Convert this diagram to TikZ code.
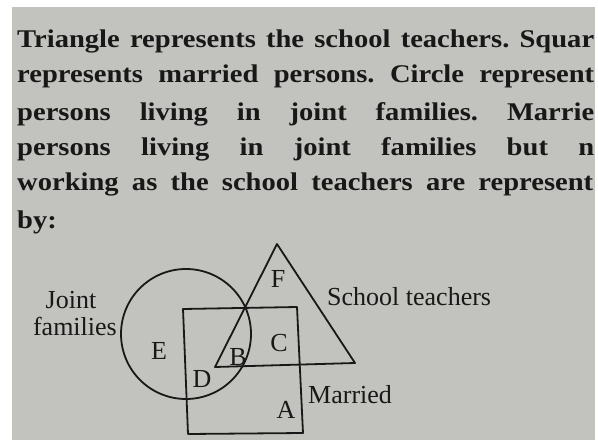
\documentclass[tikz,border=0pt]{standalone}
\usepackage{fontspec}
\newfontfamily\labelfont{Liberation Serif}
\newfontfamily\qfont[FakeStretch=1.12]{Liberation Serif}
\definecolor{paper}{RGB}{194,194,190}
\definecolor{ink}{RGB}{24,24,24}
\tikzset{
  x=1pt, y=-1pt,
  venn/.style={draw=ink, line width=1.8pt, line join=round},
  qline/.style={anchor=base west, inner sep=0pt, text=ink, font=\qfont\bfseries\fontsize{25.5}{30}\selectfont\frenchspacing},
  lbl/.style={inner sep=0pt, text=ink, font=\labelfont\fontsize{26}{30}\selectfont},
  sidelbl/.style={anchor=base west, inner sep=0pt, text=ink, font=\labelfont\fontsize{26}{30}\selectfont},
}
\begin{document}
\begin{tikzpicture}
\useasboundingbox (0,0) rectangle (598,445);
\fill[white] (0,0) rectangle (598,445);
\fill[paper] (12,7) rectangle (595,440);
\node[qline] (l1) at (17,47) {\makebox[577pt][s]{Triangle represents the school teachers. Squar}};
\node[qline] (l2) at (17,82) {\makebox[577pt][s]{represents married persons. Circle represent}};
\node[qline] (l3) at (17,120) {\makebox[577pt][s]{persons living in joint families. Marrie}};
\node[qline] (l4) at (17,155) {\makebox[577pt][s]{persons living in joint families but n}};
\node[qline] (l5) at (17,190) {\makebox[576pt][s]{working as the school teachers are represent}};
\node[qline] (l6) at (17,228) {by:};
% shapes
\node[venn, circle, minimum size=130pt, inner sep=0pt] (jf) at (186,334) {};
\coordinate (mTL) at (183,309);
\coordinate (mTR) at (297,307);
\coordinate (mBR) at (303,433);
\coordinate (mBL) at (188,434);
\draw[venn] (mTL) -- (mTR) -- (mBR) -- (mBL) -- cycle;
\coordinate (tA) at (277,244);
\coordinate (tL) at (215,367);
\coordinate (tR) at (355,363);
\draw[venn] (tA) -- (tR) -- (tL) -- cycle;
% region labels
\node[lbl] (F) at (278,279) {F};
\node[lbl] (C) at (279,343) {C};
\node[lbl] (B) at (238,357) {B};
\node[lbl] (E) at (159,351) {E};
\node[lbl] (D) at (202,379) {D};
\node[lbl] (A) at (286,410) {A};
% set labels
\node[sidelbl] (st) at (327,305) {School teachers};
\node[sidelbl] (mar) at (308,403) {Married};
\node[sidelbl, anchor=base] (j1) at (71,308) {Joint};
\node[sidelbl, anchor=base east] (j2) at (117,335) {families};
\end{tikzpicture}
\end{document}
